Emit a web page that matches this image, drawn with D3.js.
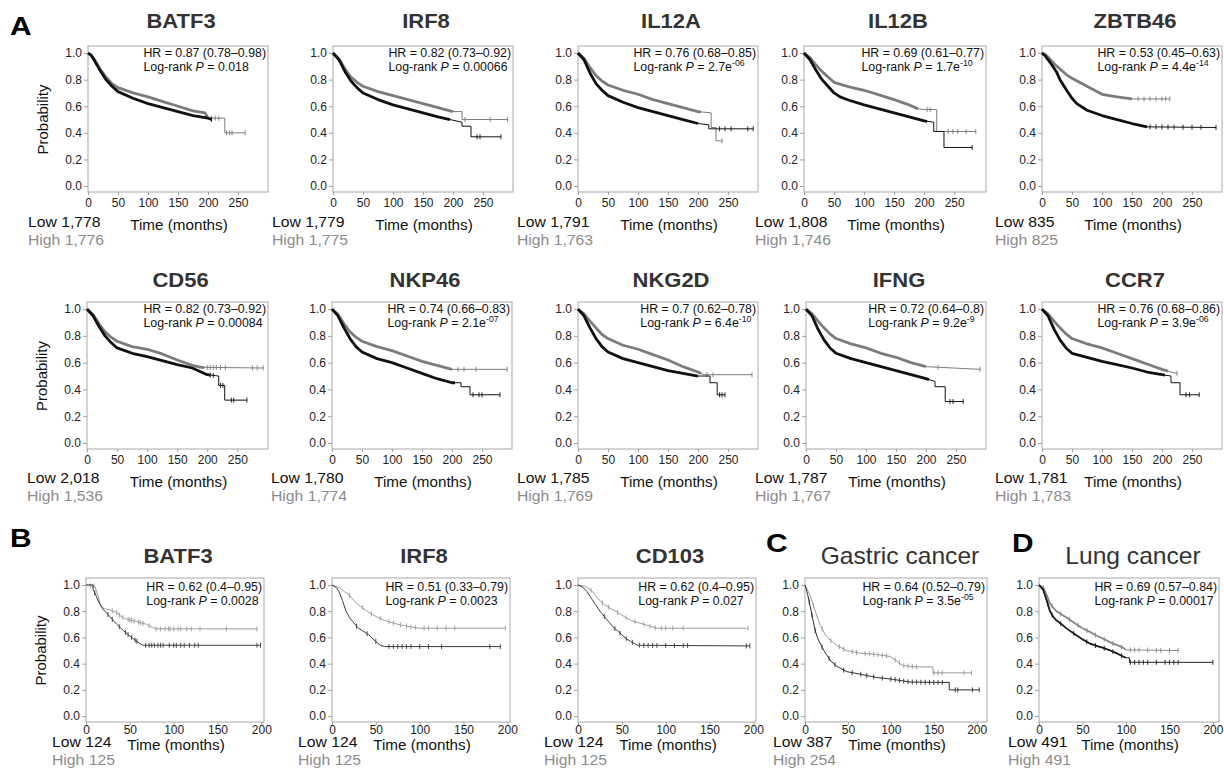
<!DOCTYPE html>
<html>
<head>
<meta charset="utf-8">
<script src="https://cdn.jsdelivr.net/npm/d3@7"></script>
<style>
body { margin: 0; background: #fff; }
svg text { font-family: "Liberation Sans", Arial, Helvetica, sans-serif; }
</style>
</head>
<body>
<svg id="fig" width="1224" height="783"></svg>
<script>
'use strict';

//------------------------------------------------------------
// data
//------------------------------------------------------------
const probTicks = [0, 0.2, 0.4, 0.6, 0.8, 1.0];
const timeTicksA = [0, 50, 100, 150, 200, 250];
const timeTicksB = [0, 50, 100, 150, 200];

// row 1 of panel A
const genesA1 = ["BATF3", "IRF8", "IL12A", "IL12B", "ZBTB46"];
const hrA1 = ["0.87 (0.78–0.98)", "0.82 (0.73–0.92)", "0.76 (0.68–0.85)", "0.69 (0.61–0.77)", "0.53 (0.45–0.63)"];
const pA1 = ["0.018", "0.00066", "2.7e^-06", "1.7e^-10", "4.4e^-14"];
const lowNA1 = ["1,778", "1,779", "1,791", "1,808", "835"];
const highNA1 = ["1,776", "1,775", "1,763", "1,746", "825"];

// row 2 of panel A
const genesA2 = ["CD56", "NKP46", "NKG2D", "IFNG", "CCR7"];
const hrA2 = ["0.82 (0.73–0.92)", "0.74 (0.66–0.83)", "0.7 (0.62–0.78)", "0.72 (0.64–0.8)", "0.76 (0.68–0.86)"];
const pA2 = ["0.00084", "2.1e^-07", "6.4e^-10", "9.2e^-9", "3.9e^-06"];
const lowNA2 = ["2,018", "1,780", "1,785", "1,787", "1,781"];
const highNA2 = ["1,536", "1,774", "1,769", "1,767", "1,783"];

// panels B, C, D
const titlesB = ["BATF3", "IRF8", "CD103", "Gastric cancer", "Lung cancer"];
const hrB = ["0.62 (0.4–0.95)", "0.51 (0.33–0.79)", "0.62 (0.4–0.95)", "0.64 (0.52–0.79)", "0.69 (0.57–0.84)"];
const pB = ["0.0028", "0.0023", "0.027", "3.5e^-05", "0.00017"];
const lowNB = ["124", "124", "124", "387", "491"];
const highNB = ["125", "125", "125", "254", "491"];

// survival curves: [months, probability]
const batf3Low = [[0,1],[5,0.985],[10,0.95],[20,0.87],[30,0.8],[40,0.75],[50,0.71],[75,0.66],[100,0.62],[125,0.59],[150,0.56],[175,0.53],[200,0.51],[206,0.5]];
const batf3High = [[0,1],[5,0.985],[10,0.955],[20,0.88],[30,0.82],[40,0.77],[50,0.74],[75,0.7],[100,0.67],[125,0.635],[150,0.6],[175,0.565],[195,0.55],[200,0.51],[228,0.51],[228,0.4],[262,0.4]];
const batf3LowCens = [206];
const batf3HighCens = [205, 212, 218, 231, 236, 240, 262];

const irf8Low = [[0,1],[10,0.95],[20,0.86],[30,0.79],[40,0.74],[50,0.7],[75,0.65],[100,0.61],[125,0.58],[150,0.55],[175,0.52],[195,0.5],[215,0.48],[215,0.45],[230,0.45],[230,0.37],[280,0.37]];
const irf8High = [[0,1],[10,0.955],[20,0.88],[30,0.82],[40,0.78],[50,0.75],[75,0.71],[100,0.68],[125,0.65],[150,0.62],[175,0.59],[200,0.56],[215,0.56],[215,0.5],[291,0.5]];
const irf8LowCens = [240, 245, 280];
const irf8HighCens = [220, 262, 291];

const il12aLow = [[0,1],[10,0.95],[20,0.85],[30,0.77],[40,0.72],[50,0.68],[75,0.63],[100,0.59],[125,0.56],[150,0.53],[175,0.5],[200,0.47],[218,0.46],[218,0.43],[292,0.43]];
const il12aHigh = [[0,1],[10,0.96],[20,0.89],[30,0.83],[40,0.79],[50,0.76],[75,0.72],[100,0.69],[125,0.65],[150,0.62],[175,0.59],[200,0.56],[222,0.55],[222,0.44],[230,0.44],[230,0.34],[240,0.34]];
const il12aLowCens = [236, 245, 255, 283, 292];
const il12aHighCens = [240];

const il12bLow = [[0,1],[10,0.95],[20,0.87],[30,0.8],[40,0.75],[50,0.7],[60,0.67],[75,0.645],[100,0.61],[125,0.58],[150,0.55],[175,0.52],[200,0.49],[216,0.48],[216,0.41],[233,0.41],[233,0.29],[280,0.29]];
const il12bHigh = [[0,1],[10,0.965],[20,0.91],[30,0.86],[40,0.82],[50,0.78],[75,0.745],[100,0.72],[125,0.685],[150,0.65],[175,0.61],[190,0.58],[200,0.575],[221,0.575],[221,0.41],[286,0.41]];
const il12bLowCens = [280];
const il12bHighCens = [205, 210, 240, 248, 256, 270, 286];

const zbtb46Low = [[0,1],[5,0.98],[10,0.95],[15,0.92],[24,0.86],[30,0.8],[41,0.72],[50,0.66],[58,0.62],[75,0.57],[100,0.53],[125,0.5],[150,0.47],[175,0.445],[290,0.44]];
const zbtb46High = [[0,1],[5,0.99],[10,0.97],[20,0.92],[30,0.88],[40,0.84],[50,0.81],[75,0.75],[100,0.69],[125,0.67],[150,0.655],[213,0.655]];
const zbtb46LowCens = [180, 190, 200, 210, 220, 235, 250, 265, 290];
const zbtb46HighCens = [160, 170, 180, 190, 200, 206, 213];

const cd56Low = [[0,1],[10,0.95],[20,0.87],[30,0.8],[40,0.75],[50,0.71],[75,0.67],[100,0.645],[125,0.615],[150,0.585],[175,0.56],[200,0.51],[219,0.5],[219,0.43],[229,0.43],[229,0.32],[266,0.32]];
const cd56High = [[0,1],[10,0.96],[20,0.89],[30,0.83],[40,0.79],[50,0.76],[75,0.72],[100,0.7],[125,0.665],[150,0.62],[175,0.58],[190,0.565],[293,0.56]];
const cd56LowCens = [205, 210, 222, 226, 240, 244, 266];
const cd56HighCens = [200, 205, 210, 215, 222, 230, 275, 283, 293];

const nkp46Low = [[0,1],[10,0.95],[20,0.86],[30,0.78],[40,0.72],[50,0.68],[75,0.63],[100,0.6],[125,0.56],[150,0.52],[175,0.48],[200,0.45],[215,0.45],[215,0.42],[230,0.42],[230,0.36],[280,0.36]];
const nkp46High = [[0,1],[10,0.96],[20,0.89],[30,0.83],[40,0.79],[50,0.76],[75,0.72],[100,0.69],[125,0.65],[150,0.61],[175,0.58],[200,0.55],[292,0.55]];
const nkp46LowCens = [235, 245, 250, 280];
const nkp46HighCens = [210, 220, 240, 292];

const nkg2dLow = [[0,1],[10,0.95],[20,0.86],[30,0.78],[40,0.72],[50,0.68],[75,0.63],[100,0.6],[125,0.57],[150,0.54],[175,0.52],[200,0.5],[220,0.5],[220,0.45],[232,0.45],[232,0.36],[245,0.36]];
const nkg2dHigh = [[0,1],[10,0.965],[20,0.91],[30,0.86],[40,0.81],[50,0.78],[75,0.73],[100,0.7],[125,0.66],[150,0.62],[175,0.57],[200,0.53],[210,0.51],[290,0.51]];
const nkg2dLowCens = [236, 240, 245];
const nkg2dHighCens = [215, 225, 290];

const ifngLow = [[0,1],[10,0.95],[20,0.85],[30,0.77],[40,0.71],[50,0.67],[75,0.63],[100,0.6],[125,0.57],[150,0.54],[175,0.51],[200,0.48],[215,0.46],[215,0.42],[232,0.42],[232,0.31],[262,0.31]];
const ifngHigh = [[0,1],[10,0.965],[20,0.91],[30,0.86],[40,0.815],[50,0.78],[75,0.74],[100,0.71],[125,0.67],[150,0.64],[175,0.6],[200,0.57],[290,0.55]];
const ifngLowCens = [240, 245, 262];
const ifngHighCens = [220, 290];

const ccr7Low = [[0,1],[10,0.95],[20,0.85],[30,0.77],[40,0.71],[50,0.67],[75,0.64],[100,0.61],[125,0.585],[150,0.56],[175,0.53],[200,0.51],[215,0.5],[215,0.45],[230,0.45],[230,0.36],[262,0.36]];
const ccr7High = [[0,1],[10,0.965],[20,0.91],[30,0.86],[40,0.815],[50,0.78],[75,0.74],[100,0.71],[125,0.67],[150,0.63],[175,0.59],[200,0.55],[215,0.53],[225,0.52]];
const ccr7LowCens = [240, 246, 262];
const ccr7HighCens = [225];

const batf3BLow = [[0,1],[8,1],[8,0.97],[12,0.91],[16,0.85],[20,0.81],[27,0.76],[35,0.7],[43,0.65],[50,0.61],[54,0.59],[62,0.55],[65,0.54],[199,0.54]];
const batf3BHigh = [[0,1],[10,0.99],[13,0.93],[16,0.86],[20,0.82],[27,0.81],[35,0.79],[40,0.76],[46,0.74],[58,0.72],[69,0.7],[76,0.675],[80,0.665],[195,0.665]];
const batf3BLowCens = [10, 25, 30, 38, 45, 48, 52, 56, 58, 68, 72, 75, 78, 82, 85, 88, 95, 100, 103, 108, 112, 118, 124, 128, 195, 199];
const batf3BHighCens = [5, 9, 30, 35, 38, 42, 48, 50, 52, 55, 60, 62, 65, 72, 80, 85, 90, 94, 96, 100, 105, 108, 115, 120, 130, 160, 195];

const irf8BLow = [[0,1],[5,0.98],[8,0.95],[12,0.88],[16,0.8],[20,0.75],[25,0.71],[30,0.67],[35,0.65],[42,0.62],[48,0.58],[55,0.54],[60,0.53],[192,0.53]];
const irf8BHigh = [[0,1],[8,0.98],[14,0.95],[20,0.92],[25,0.88],[30,0.85],[40,0.8],[50,0.76],[60,0.73],[75,0.7],[90,0.68],[100,0.67],[198,0.67]];
const irf8BLowCens = [28, 40, 50, 65, 70, 75, 80, 85, 90, 100, 110, 125, 180, 192];
const irf8BHighCens = [20, 35, 45, 55, 65, 70, 78, 85, 90, 95, 105, 110, 120, 130, 140, 198];

const cd103Low = [[0,1],[6,0.98],[10,0.95],[15,0.9],[20,0.85],[25,0.8],[30,0.76],[35,0.72],[40,0.68],[45,0.65],[50,0.62],[55,0.59],[60,0.57],[68,0.54],[196,0.535]];
const cd103High = [[0,1],[8,0.99],[15,0.96],[20,0.92],[25,0.88],[30,0.85],[40,0.81],[50,0.77],[60,0.73],[70,0.71],[80,0.69],[90,0.67],[194,0.67]];
const cd103LowCens = [30, 42, 48, 55, 62, 70, 75, 80, 85, 90, 100, 110, 120, 125, 192, 196];
const cd103HighCens = [15, 28, 35, 45, 55, 65, 75, 82, 88, 95, 100, 108, 120, 194];

const gastricLow = [[0,1],[3,0.93],[6,0.84],[9,0.74],[12,0.65],[15,0.59],[18,0.55],[22,0.5],[25,0.47],[30,0.42],[37,0.38],[48,0.34],[64,0.32],[83,0.295],[103,0.28],[122,0.26],[150,0.257],[168,0.257],[168,0.2],[203,0.2]];
const gastricHigh = [[0,1],[3,0.96],[6,0.92],[9,0.86],[12,0.8],[15,0.74],[18,0.69],[22,0.64],[25,0.61],[30,0.575],[37,0.54],[48,0.5],[64,0.48],[83,0.47],[99,0.455],[107,0.42],[114,0.385],[130,0.375],[149,0.375],[149,0.33],[194,0.33]];
const gastricLowCens = [5, 8, 12, 20, 28, 35, 45, 55, 65, 72, 80, 90, 100, 105, 110, 115, 120, 125, 130, 135, 140, 145, 150, 155, 160, 175, 178, 195, 203];
const gastricHighCens = [10, 20, 30, 40, 45, 55, 60, 70, 75, 80, 85, 90, 95, 105, 110, 115, 120, 125, 130, 150, 155, 160, 185, 194];

const lungLow = [[0,1],[5,0.96],[9,0.88],[12.6,0.8],[16,0.76],[20,0.73],[26,0.7],[32,0.667],[43,0.617],[50,0.585],[58,0.555],[66,0.535],[74,0.52],[82,0.5],[89,0.48],[95,0.46],[100,0.445],[104,0.445],[104,0.41],[200,0.41]];
const lungHigh = [[0,1],[5,0.98],[9,0.92],[12.6,0.86],[16,0.83],[20,0.8],[26,0.775],[32,0.75],[43,0.7],[50,0.67],[59,0.64],[66,0.615],[74,0.59],[80,0.57],[86,0.55],[92,0.535],[97,0.52],[100,0.505],[160,0.5]];
const lungLowCens = [10, 15, 25, 40, 55, 65, 75, 85, 95, 105, 110, 115, 120, 125, 135, 145, 150, 155, 160, 200];
const lungHighCens = [5, 15, 25, 35, 45, 55, 65, 75, 85, 95, 105, 110, 115, 125, 135, 140, 150, 160];

// curves per row, in column order
const curvesA1 = [[batf3Low, batf3High, batf3LowCens, batf3HighCens], [irf8Low, irf8High, irf8LowCens, irf8HighCens],
                  [il12aLow, il12aHigh, il12aLowCens, il12aHighCens], [il12bLow, il12bHigh, il12bLowCens, il12bHighCens],
                  [zbtb46Low, zbtb46High, zbtb46LowCens, zbtb46HighCens]];
const curvesA2 = [[cd56Low, cd56High, cd56LowCens, cd56HighCens], [nkp46Low, nkp46High, nkp46LowCens, nkp46HighCens],
                  [nkg2dLow, nkg2dHigh, nkg2dLowCens, nkg2dHighCens], [ifngLow, ifngHigh, ifngLowCens, ifngHighCens],
                  [ccr7Low, ccr7High, ccr7LowCens, ccr7HighCens]];
const curvesB = [[batf3BLow, batf3BHigh, batf3BLowCens, batf3BHighCens], [irf8BLow, irf8BHigh, irf8BLowCens, irf8BHighCens],
                 [cd103Low, cd103High, cd103LowCens, cd103HighCens], [gastricLow, gastricHigh, gastricLowCens, gastricHighCens],
                 [lungLow, lungHigh, lungLowCens, lungHighCens]];

// month up to which censor marks are so dense the line looks thick [low, high]
const denseA1 = [[206, 200], [195, 200], [200, 205], [205, 190], [175, 150]];
const denseA2 = [[205, 195], [205, 200], [200, 205], [205, 200], [205, 210]];
const denseB = [[0, 0], [0, 0], [0, 0], [0, 0], [100, 100]];

//------------------------------------------------------------
// layout
//------------------------------------------------------------
const FONT = '"Liberation Sans", Arial, Helvetica, sans-serif';
const svg = d3.select("#fig");

const rowLayouts = [
    { top: 46, bottom: 192, cols: [88, 333, 578, 804, 1042], w: [180, 180, 180, 182, 180], xMax: [300, 300, 300, 303, 300],
      ticks: timeTicksA, tickPad: 3, titleY: 28, lowDx: [-60, -61, -61, -49, -47], lowDy: 35, highDy: 18, timeDy: 38, statDy: [11, 25] },
    { top: 302, bottom: 449, cols: [87, 332, 578, 806, 1042], w: [181, 180, 180, 180, 180], xMax: [301, 300, 300, 300, 300],
      ticks: timeTicksA, tickPad: 3, titleY: 287, lowDx: [-60, -61, -61, -51, -47], lowDy: 34, highDy: 18, timeDy: 38, statDy: [11, 25] },
    { top: 578, bottom: 722, cols: [86, 332, 578, 805, 1039], w: [178, 178, 178, 182, 180], xMax: [203, 203, 203, 212, 207],
      ticks: timeTicksB, tickPad: 0, titleY: 563, lowDx: [-34, -34, -34, -32, -31], lowDy: 25, highDy: 18, timeDy: 28, statDy: [13, 27] }
];

const lowColors = [["#111", "#111", "#111", "#111", "#111"], ["#111", "#111", "#111", "#111", "#111"], ["#3c3c3c", "#3c3c3c", "#3c3c3c", "#2e2e2e", "#1c1c1c"]];
const highColors = [["#7c7c7c", "#7c7c7c", "#7c7c7c", "#7c7c7c", "#7c7c7c"], ["#7c7c7c", "#7c7c7c", "#7c7c7c", "#7c7c7c", "#7c7c7c"], ["#9c9c9c", "#9c9c9c", "#9c9c9c", "#999", "#888"]];

function label(g, x, y, str, size, opts = {}) {
    return g.append("text")
        .attr("transform", `translate(${x},${y}) scale(${opts.sx || 1},1)`)
        .attr("font-size", size)
        .attr("font-weight", opts.weight || "normal")
        .attr("text-anchor", opts.anchor || "start")
        .attr("fill", opts.fill || "#111")
        .text(str);
}

// value of a step curve at time t (points after a vertical drop win)
function valueAt(pts, t) {
    for (let i = pts.length - 1; i >= 0; --i) {
        if (pts[i][0] <= t) {
            const a = pts[i], b = pts[i + 1];
            if (!b || b[0] === a[0]) return a[1];
            return a[1] + (b[1] - a[1]) * (t - a[0]) / (b[0] - a[0]);
        }
    }
    return pts[0][1];
}

function drawCurve(g, x, y, pts, cens, dense, color, thick) {
    const line = d3.line().x(d => x(d[0])).y(d => y(d[1]));
    if (dense > 0) {
        const part = pts.filter(d => d[0] < dense);
        part.push([dense, valueAt(pts, dense)]);
        g.append("path").attr("d", line(part))
            .attr("fill", "none").attr("stroke", color)
            .attr("stroke-width", thick).attr("stroke-linejoin", "round");
    }
    g.append("path").attr("d", line(pts))
        .attr("fill", "none").attr("stroke", color).attr("stroke-width", 1);
    g.selectAll(null).data(cens).enter().append("line")
        .attr("x1", d => x(d)).attr("x2", d => x(d))
        .attr("y1", d => y(valueAt(pts, d)) - 2.5)
        .attr("y2", d => y(valueAt(pts, d)) + 2.5)
        .attr("stroke", color).attr("stroke-width", 0.9);
}

function drawPanel(r, c, title, bold, hr, p, nLow, nHigh, curves, dense, yLabel) {
    const L = rowLayouts[r];
    const x0 = L.cols[c], w = L.w[c];
    const g = svg.append("g");

    const x = d3.scaleLinear().domain([0, L.xMax[c]]).range([x0, x0 + w]);
    const y = d3.scaleLinear().domain([-0.045, 1.053]).range([L.bottom, L.top]);

    const ya = g.append("g").attr("transform", `translate(${x0},0)`)
        .call(d3.axisLeft(y).tickValues(probTicks).tickFormat(d3.format(".1f")).tickSize(4).tickPadding(2));
    const xa = g.append("g").attr("transform", `translate(0,${L.bottom})`)
        .call(d3.axisBottom(x).tickValues(L.ticks).tickFormat(d3.format("d")).tickSize(3).tickPadding(L.tickPad));
    [ya, xa].forEach(a => {
        a.attr("font-family", FONT).attr("font-size", 12);
        a.select(".domain").remove();
        a.selectAll("line").attr("stroke", "#a0a0a0");
        a.selectAll("text").attr("fill", "#222");
    });

    g.append("rect")
        .attr("x", x0).attr("y", L.top)
        .attr("width", w).attr("height", L.bottom - L.top)
        .attr("fill", "none").attr("stroke", "#a8a8a8").attr("stroke-width", 1);

    const [lowPts, highPts, lowCens, highCens] = curves;
    const thick = r < 2 ? 2.8 : 1.8;
    drawCurve(g, x, y, highPts, highCens, dense[1], highColors[r][c], thick);
    drawCurve(g, x, y, lowPts, lowCens, dense[0], lowColors[r][c], thick);

    // title
    if (bold) {
        label(g, x0 + w / 2 + 3, L.titleY, title, 20, { weight: "bold", anchor: "middle", fill: "#333", sx: 1.1 });
    } else {
        label(g, x0 + w / 2 + 4, L.titleY + 1, title, 23, { anchor: "middle", fill: "#333", sx: 1.07 });
    }

    // statistics
    const hrText = label(g, 0, 0, "HR = " + hr, 12, { sx: 1.03 });
    const hrW = hrText.node().getComputedTextLength() * 1.03;
    const sx0 = x0 + w - 2 - hrW;
    hrText.attr("transform", `translate(${sx0},${L.top + L.statDy[0]}) scale(1.03,1)`);
    const lr = g.append("text")
        .attr("transform", `translate(${sx0},${L.top + L.statDy[1]}) scale(1.03,1)`)
        .attr("font-size", 12).attr("fill", "#111");
    lr.append("tspan").text("Log-rank ");
    lr.append("tspan").attr("font-style", "italic").text("P");
    const [base, expo] = p.split("^");
    lr.append("tspan").text(" = " + base);
    if (expo) lr.append("tspan").attr("font-size", 8.5).attr("dy", -5).text(expo);

    // group sizes and axis title
    label(g, x0 + L.lowDx[c], L.bottom + L.lowDy, "Low " + nLow, 15, { sx: 1.05, fill: "#111" });
    label(g, x0 + L.lowDx[c], L.bottom + L.lowDy + L.highDy, "High " + nHigh, 15, { sx: 1.05, fill: "#8c8c8c" });
    label(g, x0 + w / 2 + 1, L.bottom + L.timeDy, "Time (months)", 14.5, { anchor: "middle", sx: 1.05, fill: "#111" });

    if (yLabel) {
        g.append("text")
            .attr("transform", `translate(${x0 - 40},${y(0.5)}) rotate(-90)`)
            .attr("font-size", 15).attr("text-anchor", "middle").attr("fill", "#111")
            .text("Probability");
    }
}

//------------------------------------------------------------
// draw
//------------------------------------------------------------
for (let c = 0; c < 5; ++c) {
    drawPanel(0, c, genesA1[c], true, hrA1[c], pA1[c], lowNA1[c], highNA1[c], curvesA1[c], denseA1[c], c === 0);
    drawPanel(1, c, genesA2[c], true, hrA2[c], pA2[c], lowNA2[c], highNA2[c], curvesA2[c], denseA2[c], c === 0);
    drawPanel(2, c, titlesB[c], c < 3, hrB[c], pB[c], lowNB[c], highNB[c], curvesB[c], denseB[c], c === 0);
}

// panel letters
const letters = [["A", 10, 35], ["B", 10, 547], ["C", 766, 552], ["D", 1012, 552]];
letters.forEach(d => label(svg, d[1], d[2], d[0], 26, { weight: "bold", sx: 1.15, fill: "#000" }));
</script>
</body>
</html>
